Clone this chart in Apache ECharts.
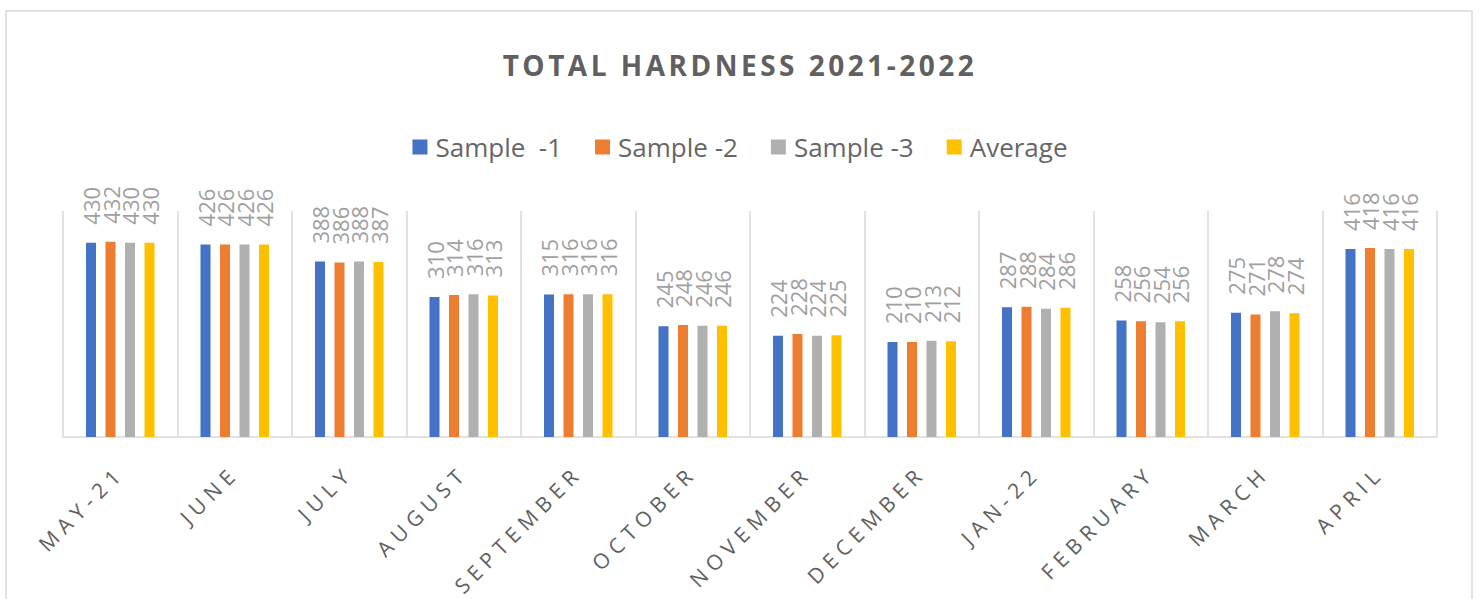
<!DOCTYPE html>
<html>
<head>
<meta charset="utf-8">
<script src="https://cdn.jsdelivr.net/npm/echarts@6/dist/echarts.min.js"></script>
<style>
  html, body { margin: 0; padding: 0; background: #fff; }
  #chart { width: 1480px; height: 599px; }
  /* Excel-style spaced lettering on the axis labels and the title */
  #chart text[style*="21px"] { letter-spacing: 6px; }
  #chart text[style*="28px"] { letter-spacing: 3.5px; }
</style>
</head>
<body>
<div id="chart"></div>
<script>
var months = ['MAY-21', 'JUNE', 'JULY', 'AUGUST', 'SEPTEMBER', 'OCTOBER', 'NOVEMBER', 'DECEMBER', 'JAN-22', 'FEBRUARY', 'MARCH', 'APRIL'];
var sample1 = [430, 426, 388, 310, 315, 245, 224, 210, 287, 258, 275, 416];
var sample2 = [432, 426, 386, 314, 316, 248, 228, 210, 288, 256, 271, 418];
var sample3 = [430, 426, 388, 316, 316, 246, 224, 213, 284, 254, 278, 416];
var average = [430, 426, 387, 313, 316, 246, 225, 212, 286, 256, 274, 416];
var seriesNames = ['Sample  -1', 'Sample -2', 'Sample -3', 'Average'];
var colors = ['#4472C4', '#ED7D31', '#B0B0B0', '#FFC000'];

var font = '"Open Sans", "Noto Sans", sans-serif';
var rule = '#d9d9d9';
var ink = '#595959';

function barSeries(name, data, color) {
  return {
    name: name,
    type: 'bar',
    data: data,
    barWidth: 10,
    barGap: '95%',
    itemStyle: { color: color },
    label: {
      show: true,
      position: 'top',
      rotate: 90,
      align: 'left',
      verticalAlign: 'middle',
      distance: 18,
      color: '#a0a0a0',
      fontSize: 22,
      fontFamily: font
    }
  };
}

var chart = echarts.init(document.getElementById('chart'), null, { renderer: 'svg' });
chart.setOption({
  animation: false,
  backgroundColor: '#fff',
  color: colors,
  title: {
    text: 'TOTAL HARDNESS 2021-2022',
    left: 'center',
    top: 51,
    padding: 0,
    textStyle: { color: '#606060', fontSize: 28, fontWeight: 'bold', fontFamily: font }
  },
  legend: {
    data: seriesNames,
    top: 134,
    left: 'center',
    padding: 0,
    itemWidth: 15,
    itemHeight: 15,
    itemGap: 33,
    icon: 'rect',
    textStyle: { color: '#666', fontSize: 26, fontFamily: font, padding: [0, 0, 0, 3] }
  },
  graphic: [{
    type: 'rect',
    shape: { x: 6, y: 11, width: 1466, height: 700 },
    style: { fill: 'none', stroke: rule, lineWidth: 1.5 },
    silent: true
  }],
  grid: { left: 63, right: 43, top: 211, bottom: 162 },
  xAxis: {
    type: 'category',
    data: months,
    axisLine: { lineStyle: { color: rule, width: 1.5 } },
    axisTick: { show: false, interval: 0 },
    splitLine: { show: true, interval: 0, lineStyle: { color: rule, width: 1.5 } },
    axisLabel: {
      interval: 0,
      rotate: 45,
      margin: 32,
      color: '#606060',
      fontSize: 21,
      fontFamily: font
    }
  },
  yAxis: {
    type: 'value',
    min: 0,
    max: 500,
    show: false,
    splitLine: { show: false }
  },
  series: [
    barSeries(seriesNames[0], sample1, colors[0]),
    barSeries(seriesNames[1], sample2, colors[1]),
    barSeries(seriesNames[2], sample3, colors[2]),
    barSeries(seriesNames[3], average, colors[3])
  ]
});
window.addEventListener('resize', function() { chart.resize(); });
</script>
</body>
</html>
